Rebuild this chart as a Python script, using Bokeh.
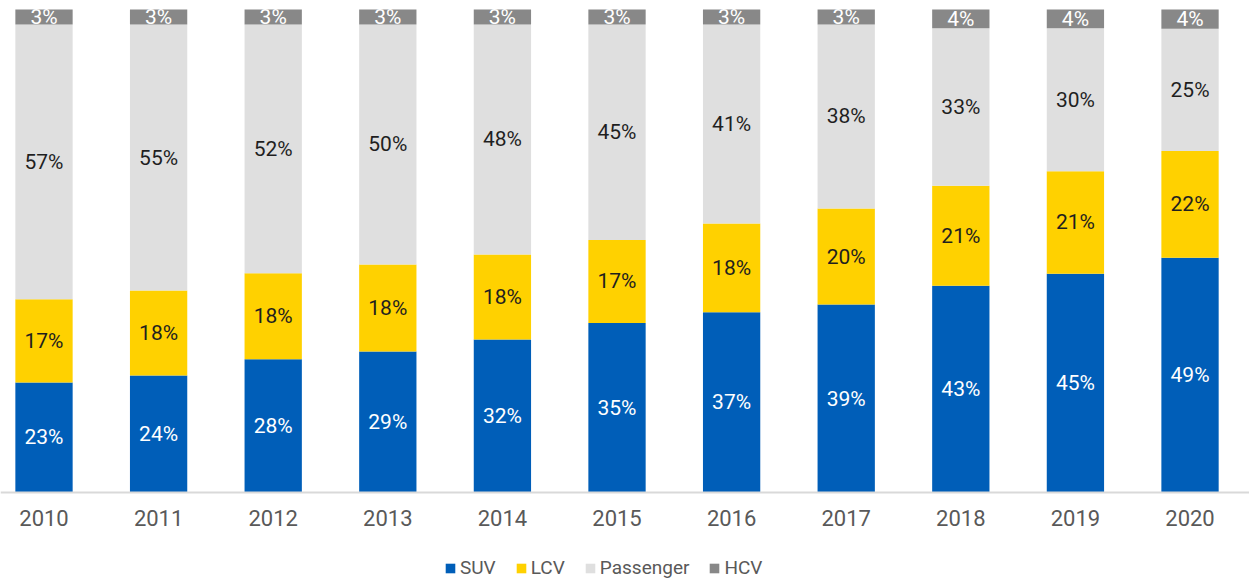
from bokeh.plotting import figure
from bokeh.models import ColumnDataSource, Legend, LegendItem, FixedTicker, Range1d, LinearAxis
from bokeh.embed import file_html
from bokeh.resources import INLINE
from bokeh.core.properties import value

years = ["2010", "2011", "2012", "2013", "2014", "2015", "2016", "2017", "2018", "2019", "2020"]
suv = [22.8, 24.2, 27.6, 29.2, 31.7, 35.1, 37.3, 38.9, 42.8, 45.3, 48.6]
lcv = [17.2, 17.6, 17.8, 18.0, 17.6, 17.2, 18.4, 19.9, 20.7, 21.2, 22.1]
passenger = [56.9, 55.1, 51.5, 49.7, 47.6, 44.6, 41.2, 38.1, 32.6, 29.6, 25.3]
hcv = [3.1, 3.1, 3.1, 3.1, 3.1, 3.1, 3.1, 3.1, 3.9, 3.9, 4.0]

series = ["SUV", "LCV", "Passenger", "HCV"]
colors = ["#005EB8", "#FFD100", "#DFDFDF", "#888888"]
label_colors = ["#FFFFFF", "#1F1F1F", "#1F1F1F", "#FFFFFF"]
FONT = "Roboto"

x = list(range(len(years)))
data = {"x": x, "SUV": suv, "LCV": lcv, "Passenger": passenger, "HCV": hcv}
base = [0.0] * len(years)
for s in series:
    vals = data[s]
    data["mid_" + s] = [b + v / 2 for b, v in zip(base, vals)]
    data["lab_" + s] = ["{:.0f}%".format(v) for v in vals]
    base = [b + v for b, v in zip(base, vals)]
src = ColumnDataSource(data)

W, H = 1249, 579
p = figure(width=W, height=H, output_backend="svg", toolbar_location=None,
           x_range=Range1d(-0.3796, 10.519), y_range=Range1d(-18.01, 101.86),
           x_axis_location=None, y_axis_location=None,
           min_border_left=0, min_border_right=0, min_border_top=0,
           min_border_bottom=0)
p.outline_line_color = None
p.background_fill_color = "white"
p.border_fill_color = "white"
p.xgrid.visible = False
p.ygrid.visible = False

renderers = p.vbar_stack(series, x="x", width=0.5, source=src, color=colors,
                         line_color=None)

for s, lc in zip(series, label_colors):
    p.text(x="x", y="mid_" + s, text="lab_" + s, source=src,
           text_align="center", text_baseline="middle",
           text_font=value(FONT), text_font_size="21px", text_color=lc)

ax = LinearAxis(fixed_location=0)
ax.ticker = FixedTicker(ticks=x)
ax.major_label_overrides = {i: y for i, y in zip(x, years)}
ax.major_tick_line_color = None
ax.minor_tick_line_color = None
ax.major_tick_out = 0
ax.major_tick_in = 0
ax.axis_line_color = "#D9D9D9"
ax.axis_line_width = 2
ax.major_label_standoff = 17
ax.major_label_text_font = FONT
ax.major_label_text_font_size = "22px"
ax.major_label_text_color = "#595959"
p.add_layout(ax, "below")

legend = Legend(items=[LegendItem(label=s, renderers=[r]) for s, r in zip(series, renderers)],
                orientation="horizontal", location=(444, 0),
                label_text_font=FONT, label_text_font_size="19px",
                label_text_color="#595959", glyph_width=12, glyph_height=12,
                label_standoff=4, spacing=19, padding=2, margin=0,
                border_line_color=None, background_fill_alpha=0)
p.add_layout(legend, "center")

open("out.html", "w").write(file_html(p, INLINE))
